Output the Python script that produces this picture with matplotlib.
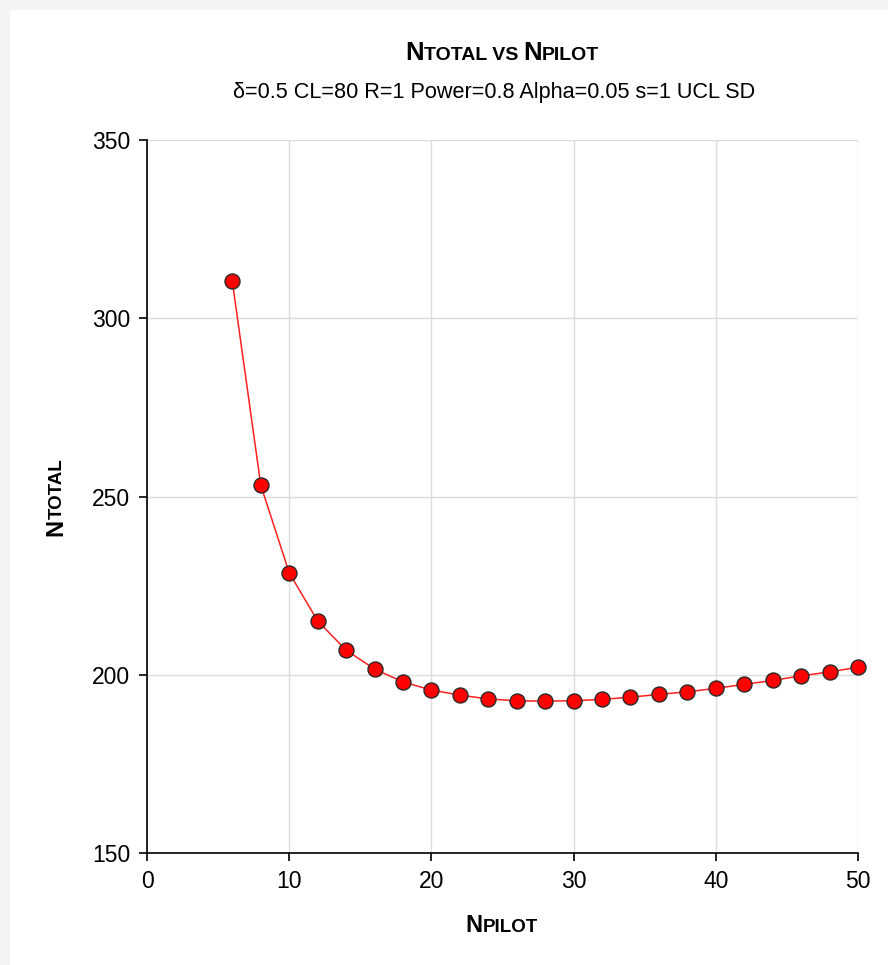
import matplotlib
matplotlib.use("Agg")
import matplotlib.pyplot as plt
from matplotlib.patches import Rectangle
from matplotlib.transforms import IdentityTransform

# data
n_pilot = [6, 8, 10, 12, 14, 16, 18, 20, 22, 24, 26, 28, 30, 32, 34, 36, 38, 40, 42, 44, 46, 48, 50]
n_total = [310.4, 253.2, 228.6, 215.1, 206.9, 201.6, 198.0, 195.7, 194.3, 193.2, 192.7, 192.6,
           192.7, 193.1, 193.7, 194.5, 195.2, 196.2, 197.3, 198.4, 199.7, 200.8, 202.1]
x_ticks = [0, 10, 20, 30, 40, 50]
y_ticks = [150, 200, 250, 300, 350]

title = "Ntotal vs Npilot"
subtitle = "δ=0.5 CL=80 R=1 Power=0.8 Alpha=0.05 s=1 UCL SD"
x_label = "Npilot"
y_label = "Ntotal"

plt.rcParams['font.family'] = ['Liberation Sans', 'DejaVu Sans']

W, H = 888, 965
fig = plt.figure(figsize=(W / 100, H / 100), dpi=100)
fig.patch.set_facecolor('#f4f4f4')
fig.patches.append(Rectangle((10 / W, 0), 1, 1 - 10 / H, transform=fig.transFigure,
                             facecolor='white', edgecolor='none', zorder=-5))

ax = fig.add_axes([147 / W, 1 - 853 / H, (858 - 147) / W, (853 - 140) / H])
ax.patch.set_alpha(0)
ax.plot(n_pilot, n_total, color='#ff2020', lw=1.1, marker='o', markersize=10.8,
        markerfacecolor='#ff0000', markeredgecolor='#2a2a2a', markeredgewidth=1.0,
        zorder=3, clip_on=False)

ax.set_xlim(0, 50)
ax.set_ylim(150, 350)
ax.set_xticks(x_ticks)
ax.set_yticks(y_ticks)
ax.grid(True, color='#dcdcdc', lw=1)
ax.set_axisbelow(True)
for s in ['top', 'right']:
    ax.spines[s].set_visible(False)
for s in ['left', 'bottom']:
    ax.spines[s].set_linewidth(1.2)
ax.tick_params(length=6, width=1.2, pad=6, labelsize=16.5, colors='black')


def small_caps(x, y, text, big, small, rotation=0, weight='bold'):
    # split text into runs of capitals (big) and lowercase (small caps)
    runs = []
    for ch in text:
        is_big = ch.isupper()
        if runs and runs[-1][1] == is_big:
            runs[-1][0] += ch
        else:
            runs.append([ch, is_big])
    r = fig.canvas.get_renderer()
    items = []
    total = 0
    for s, is_big in runs:
        t = fig.text(0, 0, s.upper(), fontsize=big if is_big else small, weight=weight,
                     ha='left', va='baseline', transform=IdentityTransform())
        w = t.get_window_extent(r).width
        items.append((t, w))
        total += w
    pos = (x if rotation == 0 else y) - total / 2
    for t, w in items:
        if rotation == 0:
            t.set_position((pos, y))
        else:
            t.set_rotation(90)
            t.set_rotation_mode('anchor')
            t.set_position((x, pos))
        pos += w


small_caps(502, H - 60, title, 18.5, 14)
fig.text(494 / W, 1 - 98 / H, subtitle, ha='center', va='baseline', fontsize=15.6)
small_caps(502, H - 932, x_label, 17, 13.5)
small_caps(62, H - 497, y_label, 17, 13.5, rotation=90)

fig.savefig('out.png', dpi=100, facecolor=fig.get_facecolor())
